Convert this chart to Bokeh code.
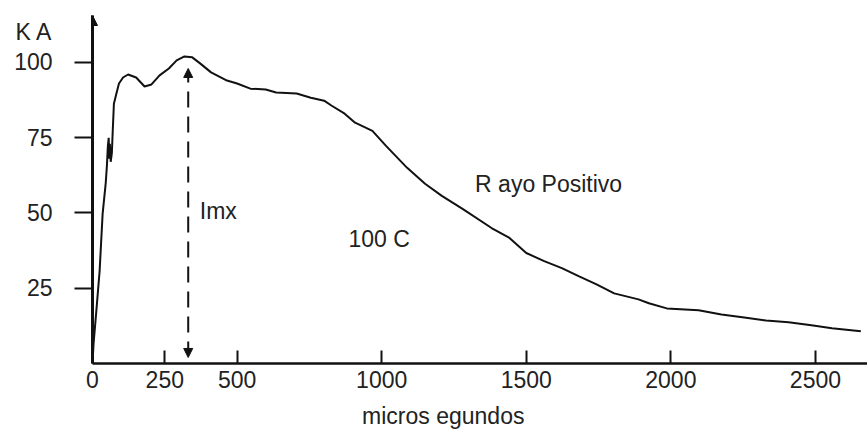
from bokeh.plotting import figure
from bokeh.models import Range1d, FixedTicker, Label, Arrow, NormalHead, LinearAxis
from bokeh.embed import file_html
from bokeh.resources import INLINE

# ---- data ----
time_us = [0, 3.5, 14, 24.6, 35, 45.8, 50, 53, 56, 58, 60, 63, 67, 70, 74, 81, 91.5,
           105.6, 123, 151, 180, 204, 232, 264, 291, 318, 345, 372, 410, 465, 500, 546,
           599, 635, 706, 755, 801, 826, 872, 908, 968, 1015, 1088, 1150, 1208, 1281,
           1380, 1442, 1500, 1562, 1623, 1681, 1743, 1804, 1888, 1924, 1986, 2096, 2175,
           2254, 2329, 2407, 2486, 2557, 2657]
current_ka = [0, 6.3, 18.3, 30.7, 49.7, 60, 66, 72, 75, 68, 73, 67, 70, 77.3, 86.3, 89, 93,
              95, 96, 95, 92, 92.7, 95.7, 98, 100.7, 102, 101.7, 99.7, 96.7, 94, 93, 91.3,
              91, 90, 89.7, 88.3, 87.3, 85.7, 83, 80, 77.3, 72.3, 65, 59.7, 55.7, 51.3,
              45, 41.7, 36.7, 34, 31.7, 29, 26.3, 23.3, 21.3, 20, 18.3, 17.7, 16.3,
              15.3, 14.3, 13.7, 12.7, 11.7, 10.7]
x_ticks = [0, 250, 500, 1000, 1500, 2000, 2500]
y_ticks = [25, 50, 75, 100]
imx_time = 331
imx_top = 98
imx_bottom = 2
y_unit = "K A"
x_title = "micros egundos"
lbl_imx = "Imx"
lbl_charge = "100 C"
lbl_ray = "R ayo Positivo"

FONT = "Liberation Sans"
TXT = "#222222"
INK = "#111111"
FS = "23px"

p = figure(width=867, height=434, output_backend="svg", toolbar_location=None,
           x_range=Range1d(0, 2680), y_range=Range1d(0, 115.6),
           min_border_left=92, min_border_right=0, min_border_top=15,
           min_border_bottom=71)
p.outline_line_color = None
p.grid.visible = False
p.background_fill_color = "white"
p.border_fill_color = "white"

p.line(time_us, current_ka, line_width=2, color=INK)

xa = p.xaxis[0]
xa.ticker = FixedTicker(ticks=x_ticks)
xa.major_tick_in = 13
xa.major_tick_out = 0
xa.minor_tick_line_color = None
xa.axis_line_width = 2.5
xa.axis_line_color = INK
xa.major_tick_line_width = 2
xa.major_tick_line_color = INK
xa.major_label_text_font = FONT
xa.major_label_text_font_size = FS
xa.major_label_text_color = TXT
xa.major_label_standoff = 7

# x title drawn as the single label of a second, line-less axis below
title_pos = 1213
xt = LinearAxis(ticker=FixedTicker(ticks=[title_pos]),
                major_label_overrides={title_pos: x_title},
                axis_line_color=None, major_tick_line_color=None,
                minor_tick_line_color=None, major_tick_in=0, major_tick_out=0,
                major_label_standoff=12, major_label_text_font=FONT,
                major_label_text_font_size=FS, major_label_text_color=TXT)
p.add_layout(xt, "below")

# y axis: tick marks as minor ticks, unit "K A" as a label on top
ka_pos = 110
ya = p.yaxis[0]
ya.ticker = FixedTicker(ticks=y_ticks + [ka_pos], minor_ticks=y_ticks)
ya.major_label_overrides = {ka_pos: y_unit}
ya.major_tick_in = 0
ya.major_tick_out = 18
ya.major_tick_line_color = None
ya.minor_tick_in = 0
ya.minor_tick_out = 18
ya.minor_tick_line_width = 2
ya.minor_tick_line_color = INK
ya.axis_line_width = 3
ya.axis_line_color = INK
ya.major_label_text_font = FONT
ya.major_label_text_font_size = FS
ya.major_label_text_color = TXT
ya.major_label_standoff = 22

# arrow head on top of y axis
p.add_layout(Arrow(x_start=0, y_start=108, x_end=0, y_end=115.6, line_width=3,
                   line_color=INK,
                   end=NormalHead(size=10, fill_color=INK, line_color=INK)))

# dashed Imx double arrow
p.add_layout(Arrow(x_start=imx_time, y_start=imx_bottom, x_end=imx_time, y_end=imx_top,
                   line_width=2, line_color=INK, line_dash="16 9",
                   start=NormalHead(size=9, fill_color=INK, line_color=INK),
                   end=NormalHead(size=9, fill_color=INK, line_color=INK)))

def lab(x, y, t, size=FS, base="middle"):
    p.add_layout(Label(x=x, y=y, text=t, text_font=FONT, text_font_size=size,
                       text_color=TXT, text_baseline=base, text_align="left"))

lab(imx_time + 40, 50.8, lbl_imx)
lab(885, 41.2, lbl_charge)
lab(1323, 59.5, lbl_ray)

open("out.html", "w").write(file_html(p, INLINE))
